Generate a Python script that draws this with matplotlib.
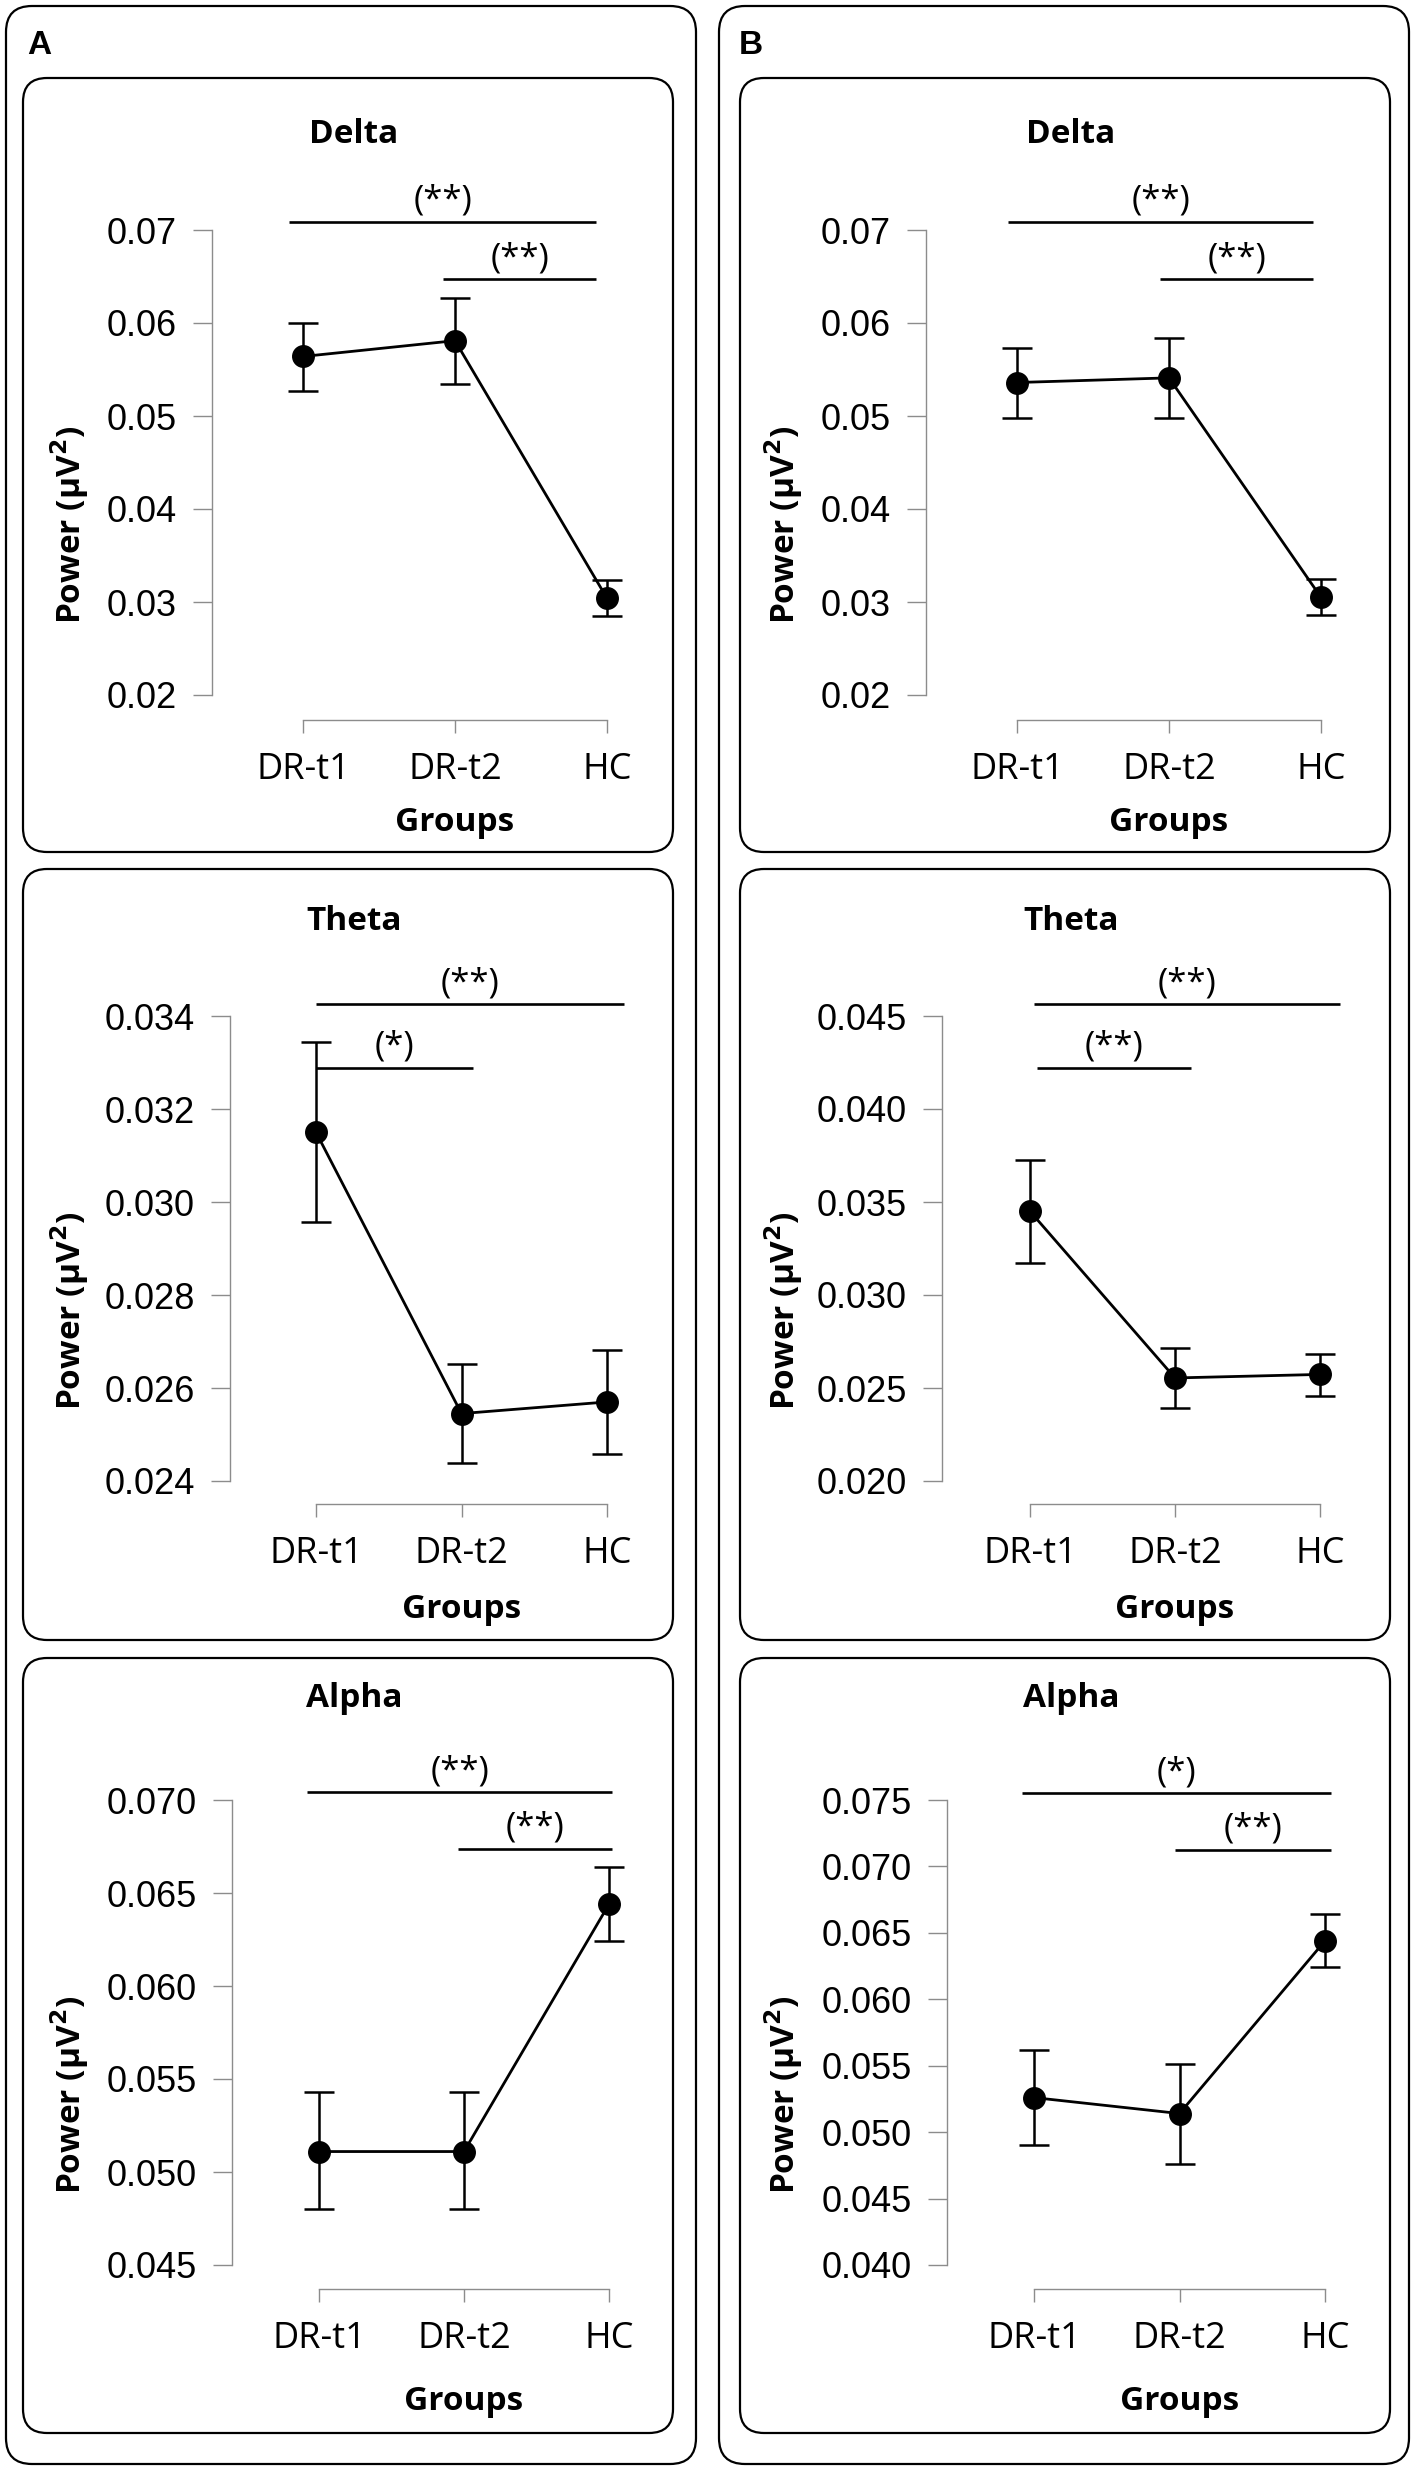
import matplotlib
matplotlib.use('Agg')
import matplotlib.pyplot as plt
from matplotlib.patches import FancyBboxPatch
import numpy as np

W, H = 1417, 2473
DPI = 100

groups = ['DR-t1', 'DR-t2', 'HC']
bands = ['Delta', 'Theta', 'Alpha']
column_letters = ['A', 'B']

# ---- Panel A values (mean, lower, upper of error bar) ----
A_delta_mean = [0.0564, 0.0581, 0.0304]
A_delta_lo = [0.0527, 0.0534, 0.0285]
A_delta_hi = [0.0600, 0.0627, 0.0324]

A_theta_mean = [0.0315, 0.02545, 0.0257]
A_theta_lo = [0.02957, 0.02438, 0.02459]
A_theta_hi = [0.03344, 0.02652, 0.02681]

A_alpha_mean = [0.0511, 0.0511, 0.0644]
A_alpha_lo = [0.0480, 0.0480, 0.0624]
A_alpha_hi = [0.0543, 0.0543, 0.0664]

# ---- Panel B values ----
B_delta_mean = [0.0536, 0.0541, 0.0305]
B_delta_lo = [0.0498, 0.0498, 0.0286]
B_delta_hi = [0.0573, 0.0584, 0.0325]

B_theta_mean = [0.0345, 0.02554, 0.02573]
B_theta_lo = [0.0317, 0.02395, 0.02458]
B_theta_hi = [0.03724, 0.02713, 0.02683]

B_alpha_mean = [0.0526, 0.0514, 0.0644]
B_alpha_lo = [0.0490, 0.0476, 0.0624]
B_alpha_hi = [0.0562, 0.0551, 0.0664]

# ---- y tick labels ----
A_delta_ticks = ['0.02', '0.03', '0.04', '0.05', '0.06', '0.07']
A_theta_ticks = ['0.024', '0.026', '0.028', '0.030', '0.032', '0.034']
A_alpha_ticks = ['0.045', '0.050', '0.055', '0.060', '0.065', '0.070']
B_delta_ticks = ['0.02', '0.03', '0.04', '0.05', '0.06', '0.07']
B_theta_ticks = ['0.020', '0.025', '0.030', '0.035', '0.040', '0.045']
B_alpha_ticks = ['0.040', '0.045', '0.050', '0.055', '0.060', '0.065', '0.070', '0.075']

# ---- significance bars: (x start, x end, y level, label) ----
A_delta_sig = [(0.91, 2.93, 0.07087, '(**)'), (1.92, 2.93, 0.0647, '(**)')]
A_theta_sig = [(1.00, 3.12, 0.03425, '(**)'), (1.00, 2.08, 0.03288, '(*)')]
A_alpha_sig = [(0.92, 3.02, 0.07042, '(**)'), (1.96, 3.02, 0.06738, '(**)')]
B_delta_sig = [(0.94, 2.95, 0.07087, '(**)'), (1.94, 2.95, 0.06471, '(**)')]
B_theta_sig = [(1.03, 3.14, 0.04563, '(**)'), (1.05, 2.11, 0.0422, '(**)')]
B_alpha_sig = [(0.92, 3.04, 0.07551, '(*)'), (1.97, 3.04, 0.07125, '(**)')]

panels = {
    ('A', 'Delta'): (A_delta_mean, A_delta_lo, A_delta_hi, A_delta_ticks, A_delta_sig),
    ('A', 'Theta'): (A_theta_mean, A_theta_lo, A_theta_hi, A_theta_ticks, A_theta_sig),
    ('A', 'Alpha'): (A_alpha_mean, A_alpha_lo, A_alpha_hi, A_alpha_ticks, A_alpha_sig),
    ('B', 'Delta'): (B_delta_mean, B_delta_lo, B_delta_hi, B_delta_ticks, B_delta_sig),
    ('B', 'Theta'): (B_theta_mean, B_theta_lo, B_theta_hi, B_theta_ticks, B_theta_sig),
    ('B', 'Alpha'): (B_alpha_mean, B_alpha_lo, B_alpha_hi, B_alpha_ticks, B_alpha_sig),
}

# ---- layout in pixels (from top-left) ----
# spine x, first tick x, last tick x, top tick y, bottom tick y, x-axis line y
layout = {
    ('A', 'Delta'): (212, 303, 607, 230, 695, 720),
    ('A', 'Theta'): (230, 316, 607, 1016, 1481, 1504),
    ('A', 'Alpha'): (232, 319, 609, 1800, 2265, 2289),
    ('B', 'Delta'): (926, 1017, 1321, 230, 695, 720),
    ('B', 'Theta'): (942, 1030, 1320, 1016, 1481, 1504),
    ('B', 'Alpha'): (947, 1034, 1325, 1800, 2265, 2289),
}
title_y = {'Delta': 134, 'Theta': 921, 'Alpha': 1698}
groups_y = {'Delta': 822, 'Theta': 1609, 'Alpha': 2402}
ylab_x = {'A': 70, 'B': 784}
outer_x = {'A': (6, 696), 'B': (719, 1409)}
inner_x = {'A': (23, 673), 'B': (740, 1390)}
inner_y = {'Delta': (78, 852), 'Theta': (869, 1640), 'Alpha': (1658, 2433)}
outer_y = (6, 2464)
letter_pos = {'A': (39, 45), 'B': (751, 45)}

SPINE_GRAY = '#8c8c8c'
TICK_FONT = 'Liberation Sans'
LABEL_FONT = 'Open Sans'

fig = plt.figure(figsize=(W / DPI, H / DPI), dpi=DPI)
bg = fig.add_axes([0, 0, 1, 1])
bg.set_xlim(0, W)
bg.set_ylim(H, 0)
bg.axis('off')
bg.set_zorder(0)

for col in column_letters:
    x0, x1 = outer_x[col]
    bg.add_patch(FancyBboxPatch((x0, outer_y[0]), x1 - x0, outer_y[1] - outer_y[0],
                                boxstyle='round,pad=0,rounding_size=26',
                                fc='white', ec='black', lw=1.6))
    lx, ly = letter_pos[col]
    bg.text(lx, ly, col, fontsize=24, fontweight='bold', family=TICK_FONT,
            ha='center', va='center')
    for band in bands:
        ix0, ix1 = inner_x[col]
        iy0, iy1 = inner_y[band]
        bg.add_patch(FancyBboxPatch((ix0, iy0), ix1 - ix0, iy1 - iy0,
                                    boxstyle='round,pad=0,rounding_size=24',
                                    fc='white', ec='black', lw=1.6))

for (col, band), (mean, lo, hi, tlabels, sigs) in panels.items():
    spx, xa, xc, ytop, ybot, xline = layout[(col, band)]
    dx = (xc - xa) / 2.0
    right_px = xc + 0.45 * dx
    ax = fig.add_axes([spx / W, 1 - ybot / H, (right_px - spx) / W, (ybot - ytop) / H])
    ax.set_zorder(2)
    ax.patch.set_alpha(0)
    tvals = [float(t) for t in tlabels]
    ax.set_ylim(tvals[0], tvals[-1])
    ax.set_xlim(1 - (xa - spx) / dx, 3.45)
    x = np.arange(1, len(groups) + 1)
    mean = np.array(mean)
    yerr = [mean - np.array(lo), np.array(hi) - mean]
    ax.errorbar(x, mean, yerr=yerr, fmt='-o', color='black', ms=15.5, lw=2.0,
                elinewidth=1.8, capsize=10.8, capthick=1.8, clip_on=False, zorder=3)
    for (s0, s1, sy, lab) in sigs:
        ax.plot([s0, s1], [sy, sy], color='black', lw=1.9, clip_on=False,
                solid_capstyle='butt')
        ax.annotate(lab, xy=((s0 + s1) / 2, sy), xytext=(0, 3), textcoords='offset points',
                    ha='center', va='bottom', fontsize=25, family=LABEL_FONT,
                    annotation_clip=False)
    for sp in ['top', 'right']:
        ax.spines[sp].set_visible(False)
    ax.spines['left'].set_color(SPINE_GRAY)
    ax.spines['left'].set_linewidth(1.0)
    ax.spines['left'].set_bounds(tvals[0], tvals[-1])
    ax.spines['bottom'].set_color(SPINE_GRAY)
    ax.spines['bottom'].set_linewidth(1.0)
    ax.spines['bottom'].set_position(('outward', (xline - ybot) * 72 / DPI))
    ax.spines['bottom'].set_bounds(1, 3)
    ax.set_yticks(tvals)
    ax.set_yticklabels(tlabels, family=TICK_FONT, fontsize=26)
    ax.set_xticks(x)
    ax.set_xticklabels(groups, family=LABEL_FONT, fontsize=26)
    ax.tick_params(axis='y', direction='out', length=13.5, width=1.0, color=SPINE_GRAY, pad=12)
    ax.tick_params(axis='x', direction='out', length=9, width=1.0, color=SPINE_GRAY, pad=14)
    # title, axis labels
    cx = (inner_x[col][0] + inner_x[col][1]) / 2 + 6
    bg.text(cx, title_y[band], band, fontsize=24, fontweight='bold', family=LABEL_FONT,
            ha='center', va='center')
    bg.text(xa + dx, groups_y[band], 'Groups', fontsize=24, fontweight='bold',
            family=LABEL_FONT, ha='center', va='center')
    bg.text(ylab_x[col], (ytop + ybot) / 2 + 62, 'Power (µV$^{\\mathbf{2}}$)', fontsize=24,
            fontweight='bold', family=LABEL_FONT, rotation=90, ha='center', va='center')

fig.savefig('out.png', dpi=DPI)
